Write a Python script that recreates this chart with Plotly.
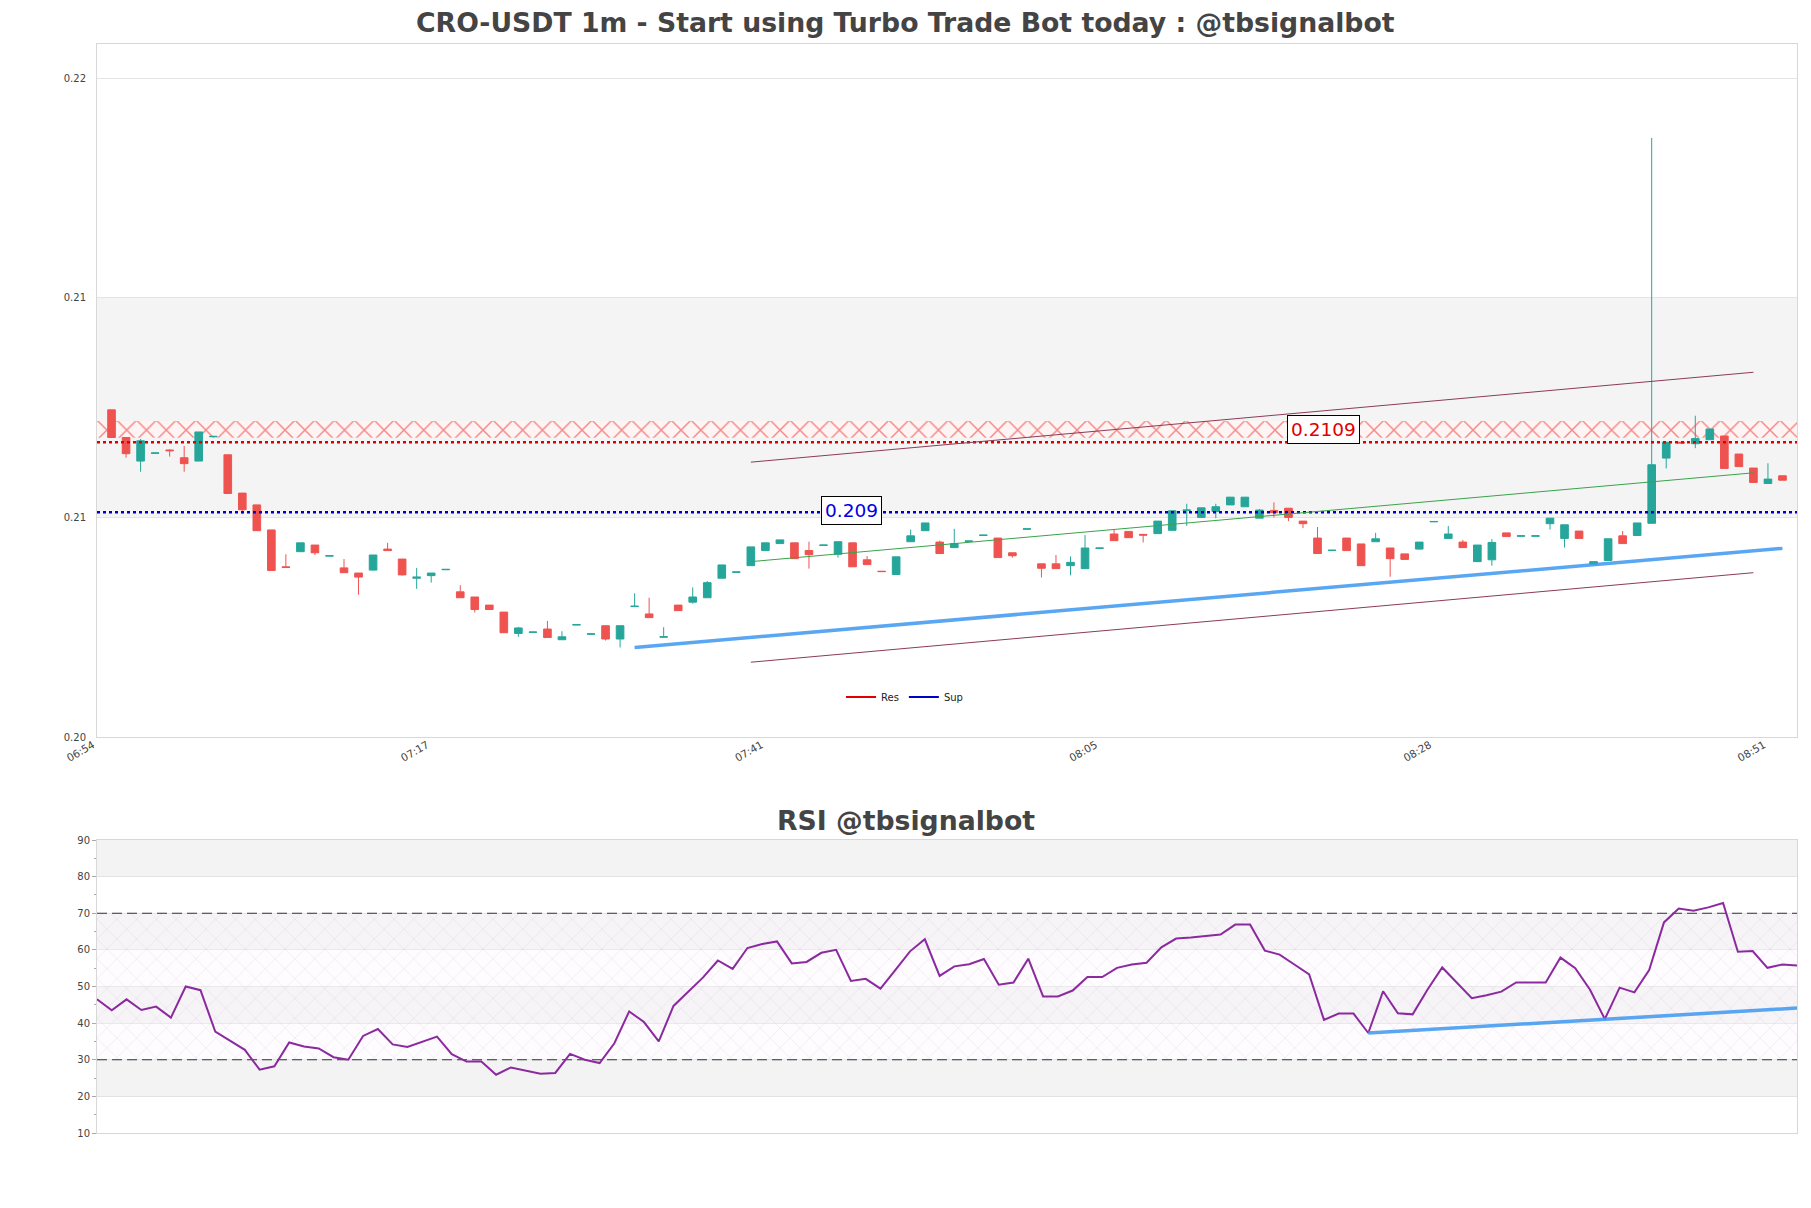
import plotly.graph_objects as go

# ---------------- data ----------------
tick_pos = [-1, 22, 45, 68, 91, 114]
tick_times = ["06:54", "07:17", "07:41", "08:05", "08:28", "08:51"]

opens = [
    0.21178, 0.21103, 0.21039, 0.21060, 0.21069, 0.21048, 0.21039, 0.21105, 0.21056, 0.20952,
    0.20920, 0.20852, 0.20752, 0.20793, 0.20811, 0.20781, 0.20749, 0.20735, 0.20743, 0.20800,
    0.20773, 0.20721, 0.20728, 0.20744, 0.20684, 0.20670, 0.20648, 0.20629, 0.20571, 0.20574,
    0.20583, 0.20554, 0.20594, 0.20569, 0.20592, 0.20556, 0.20644, 0.20624, 0.20561, 0.20648,
    0.20656, 0.20668, 0.20721, 0.20737, 0.20755, 0.20796, 0.20815, 0.20817, 0.20796, 0.20810,
    0.20786, 0.20817, 0.20771, 0.20740, 0.20731, 0.20820, 0.20850, 0.20819, 0.20804, 0.20821,
    0.20837, 0.20830, 0.20790, 0.20854, 0.20760, 0.20760, 0.20755, 0.20747, 0.20802, 0.20841,
    0.20848, 0.20840, 0.20842, 0.20851, 0.20905, 0.20886, 0.20902, 0.20920, 0.20915, 0.20884,
    0.20905, 0.20911, 0.20876, 0.20830, 0.20796, 0.20830, 0.20814, 0.20820, 0.20803, 0.20787,
    0.20800, 0.20874, 0.20829, 0.20819, 0.20766, 0.20771, 0.20844, 0.20835, 0.20835, 0.20869,
    0.20829, 0.20849, 0.20759, 0.20769, 0.20836, 0.20837, 0.20870, 0.21047, 0.21090, 0.21086,
    0.21097, 0.21107, 0.21058, 0.21020, 0.20978, 0.20999]

highs = [
    0.21178, 0.21103, 0.21099, 0.21061, 0.21071, 0.21080, 0.21118, 0.21106, 0.21056, 0.20952,
    0.20920, 0.20852, 0.20786, 0.20817, 0.20811, 0.20782, 0.20773, 0.20735, 0.20784, 0.20817,
    0.20773, 0.20749, 0.20735, 0.20745, 0.20702, 0.20670, 0.20648, 0.20629, 0.20589, 0.20575,
    0.20605, 0.20577, 0.20595, 0.20570, 0.20592, 0.20592, 0.20680, 0.20668, 0.20588, 0.20648,
    0.20696, 0.20713, 0.20757, 0.20738, 0.20806, 0.20817, 0.20825, 0.20817, 0.20820, 0.20811,
    0.20820, 0.20817, 0.20781, 0.20740, 0.20779, 0.20853, 0.20871, 0.20823, 0.20855, 0.20822,
    0.20838, 0.20830, 0.20790, 0.20855, 0.20760, 0.20784, 0.20780, 0.20838, 0.20803, 0.20853,
    0.20848, 0.20840, 0.20876, 0.20904, 0.20923, 0.20912, 0.20923, 0.20941, 0.20941, 0.20909,
    0.20927, 0.20911, 0.20876, 0.20860, 0.20797, 0.20830, 0.20814, 0.20844, 0.20803, 0.20787,
    0.20819, 0.20875, 0.20863, 0.20825, 0.20811, 0.20827, 0.20844, 0.20836, 0.20836, 0.20884,
    0.20866, 0.20849, 0.20766, 0.20828, 0.20849, 0.20871, 0.21916, 0.21090, 0.21090, 0.21162,
    0.21126, 0.21107, 0.21058, 0.21020, 0.21033, 0.20999]

lows = [
    0.21103, 0.21048, 0.21010, 0.21060, 0.21051, 0.21010, 0.21039, 0.21105, 0.20951, 0.20895,
    0.20850, 0.20742, 0.20750, 0.20793, 0.20784, 0.20781, 0.20736, 0.20676, 0.20742, 0.20796,
    0.20728, 0.20692, 0.20709, 0.20744, 0.20668, 0.20628, 0.20636, 0.20573, 0.20562, 0.20574,
    0.20560, 0.20554, 0.20594, 0.20569, 0.20552, 0.20533, 0.20644, 0.20614, 0.20561, 0.20633,
    0.20652, 0.20668, 0.20721, 0.20737, 0.20755, 0.20796, 0.20815, 0.20774, 0.20747, 0.20810,
    0.20777, 0.20752, 0.20758, 0.20739, 0.20731, 0.20820, 0.20850, 0.20788, 0.20804, 0.20821,
    0.20837, 0.20777, 0.20777, 0.20854, 0.20723, 0.20747, 0.20729, 0.20747, 0.20802, 0.20823,
    0.20831, 0.20818, 0.20842, 0.20851, 0.20863, 0.20886, 0.20884, 0.20920, 0.20915, 0.20884,
    0.20886, 0.20876, 0.20857, 0.20788, 0.20796, 0.20796, 0.20755, 0.20820, 0.20725, 0.20772,
    0.20799, 0.20874, 0.20829, 0.20804, 0.20766, 0.20755, 0.20834, 0.20835, 0.20835, 0.20853,
    0.20804, 0.20829, 0.20759, 0.20769, 0.20815, 0.20837, 0.20870, 0.21019, 0.21088, 0.21074,
    0.21097, 0.21019, 0.21024, 0.20981, 0.20978, 0.20987]

closes = [
    0.21103, 0.21059, 0.21094, 0.21061, 0.21067, 0.21032, 0.21118, 0.21106, 0.20951, 0.20907,
    0.20850, 0.20742, 0.20750, 0.20817, 0.20790, 0.20782, 0.20736, 0.20724, 0.20784, 0.20796,
    0.20730, 0.20724, 0.20735, 0.20745, 0.20668, 0.20636, 0.20636, 0.20573, 0.20586, 0.20575,
    0.20560, 0.20562, 0.20595, 0.20570, 0.20556, 0.20592, 0.20645, 0.20614, 0.20562, 0.20633,
    0.20670, 0.20709, 0.20757, 0.20738, 0.20806, 0.20817, 0.20825, 0.20774, 0.20785, 0.20811,
    0.20820, 0.20752, 0.20758, 0.20739, 0.20779, 0.20836, 0.20871, 0.20788, 0.20815, 0.20822,
    0.20838, 0.20777, 0.20782, 0.20855, 0.20748, 0.20747, 0.20764, 0.20803, 0.20803, 0.20823,
    0.20831, 0.20838, 0.20876, 0.20904, 0.20906, 0.20912, 0.20915, 0.20941, 0.20941, 0.20906,
    0.20899, 0.20886, 0.20869, 0.20788, 0.20797, 0.20796, 0.20755, 0.20828, 0.20774, 0.20772,
    0.20819, 0.20875, 0.20841, 0.20804, 0.20811, 0.20818, 0.20834, 0.20836, 0.20836, 0.20884,
    0.20866, 0.20829, 0.20766, 0.20828, 0.20815, 0.20871, 0.21029, 0.21090, 0.21088, 0.21100,
    0.21126, 0.21019, 0.21024, 0.20981, 0.20990, 0.20987]

rsi = [
    46.5, 43.5, 46.5, 43.6, 44.5, 41.5, 50.0, 49.0, 37.7, 35.3,
    32.7, 27.3, 28.2, 34.7, 33.6, 33.1, 30.7, 30.0, 36.5, 38.4,
    34.2, 33.5, 34.9, 36.3, 31.5, 29.5, 29.5, 25.9, 27.9, 27.1,
    26.2, 26.4, 31.6, 30.0, 29.1, 34.5, 43.2, 40.3, 35.0, 44.7,
    48.6, 52.5, 57.1, 54.8, 60.5, 61.6, 62.3, 56.3, 56.7, 59.2,
    60.0, 51.5, 52.1, 49.4, 54.5, 59.6, 62.9, 52.9, 55.5, 56.1,
    57.5, 50.5, 51.1, 57.6, 47.3, 47.3, 48.9, 52.6, 52.6, 55.1,
    56.0, 56.5, 60.7, 63.1, 63.4, 63.8, 64.2, 66.9, 66.9, 59.8,
    58.7, 56.0, 53.3, 40.9, 42.6, 42.6, 37.3, 48.7, 42.7, 42.4,
    49.1, 55.2, 51.1, 46.8, 47.6, 48.6, 51.1, 51.1, 51.1, 57.9,
    55.0, 49.1, 41.1, 49.7, 48.4, 54.5, 67.5, 71.3, 70.7, 71.6,
    72.8, 59.5, 59.7, 55.1, 56.0, 55.7]

res_level = 0.2109
sup_level = 0.2090
res_label = "0.2109"
sup_label = "0.209"
res_zone = [0.21102, 0.21148]

trend_x = [36, 115]
trend_y = [0.20533, 0.20802]
chan_x = [44, 113]
chan_upper = [0.21036, 0.21280]
chan_mid = [0.20766, 0.21007]
chan_lower = [0.20493, 0.20736]

rsi_trend_x = [86, 115]
rsi_trend_y = [37.3, 44.1]

price_ticks = [0.20290, 0.20886, 0.21482, 0.22077]
price_tick_text = ["0.20", "0.21", "0.21", "0.22"]
price_range = [0.20290, 0.22171]
rsi_levels = [30, 70]

title_main = "CRO-USDT 1m - Start using Turbo Trade Bot today : @tbsignalbot"
title_rsi = "RSI @tbsignalbot"

# ---------------- figure ----------------
n = len(opens)
assert len(highs) == n and len(lows) == n and len(closes) == n and len(rsi) == n
idx = list(range(n))
x_lo, x_hi = -1, n
r_lo, r_hi = 0, n - 1

fig = go.Figure()

# resistance zone (hatched) - bar layer sits below the candles
fig.add_trace(go.Bar(
    x=[(x_lo + x_hi) / 2], y=[res_zone[1] - res_zone[0]], base=[res_zone[0]],
    width=[x_hi - x_lo],
    marker=dict(color="rgba(255,244,244,1)", line=dict(width=0),
                pattern=dict(shape="x", fgcolor="#e3201b", bgcolor="rgba(255,244,244,1)",
                             size=14, solidity=0.2)),
    showlegend=False, hoverinfo="skip", xaxis="x", yaxis="y"))

# support / resistance dotted lines
fig.add_trace(go.Scatter(x=[x_lo, x_hi], y=[res_level, res_level], mode="lines",
                         line=dict(color="#e00000", width=2.5, dash="dot"),
                         showlegend=False, hoverinfo="skip", xaxis="x", yaxis="y"))
fig.add_trace(go.Scatter(x=[x_lo, x_hi], y=[sup_level, sup_level], mode="lines",
                         line=dict(color="#0000c8", width=2.5, dash="dot"),
                         showlegend=False, hoverinfo="skip", xaxis="x", yaxis="y"))

# channel lines
fig.add_trace(go.Scatter(x=chan_x, y=chan_upper, mode="lines",
                         line=dict(color="#8c3b55", width=1), showlegend=False,
                         hoverinfo="skip", xaxis="x", yaxis="y"))
fig.add_trace(go.Scatter(x=chan_x, y=chan_lower, mode="lines",
                         line=dict(color="#8c3b55", width=1), showlegend=False,
                         hoverinfo="skip", xaxis="x", yaxis="y"))
fig.add_trace(go.Scatter(x=chan_x, y=chan_mid, mode="lines",
                         line=dict(color="#3aa34a", width=1), showlegend=False,
                         hoverinfo="skip", xaxis="x", yaxis="y"))

# candles
fig.add_trace(go.Candlestick(
    x=idx, open=opens, high=highs, low=lows, close=closes,
    increasing=dict(line=dict(color="#26a69a", width=1), fillcolor="#26a69a"),
    decreasing=dict(line=dict(color="#ef5350", width=1), fillcolor="#ef5350"),
    whiskerwidth=0, showlegend=False, xaxis="x", yaxis="y"))

# support trend line
fig.add_trace(go.Scatter(x=trend_x, y=trend_y, mode="lines",
                         line=dict(color="rgba(60,150,240,0.85)", width=3.5),
                         showlegend=False, hoverinfo="skip", xaxis="x", yaxis="y"))

# legend entries
fig.add_trace(go.Scatter(x=[None], y=[None], mode="lines", name="Res",
                         line=dict(color="#e00000", width=2), xaxis="x", yaxis="y"))
fig.add_trace(go.Scatter(x=[None], y=[None], mode="lines", name="Sup",
                         line=dict(color="#0000c8", width=2), xaxis="x", yaxis="y"))

# RSI hatched zone
fig.add_trace(go.Scatter(
    x=[r_lo, r_hi, r_hi, r_lo, r_lo],
    y=[rsi_levels[0], rsi_levels[0], rsi_levels[1], rsi_levels[1], rsi_levels[0]],
    mode="none", fill="toself", fillcolor="rgba(0,0,0,0)",
    fillpattern=dict(shape="x", fgcolor="rgba(170,150,195,0.55)", bgcolor="rgba(250,246,252,0.35)",
                     size=14, solidity=0.07),
    showlegend=False, hoverinfo="skip", xaxis="x2", yaxis="y2"))

for lv in rsi_levels:
    fig.add_trace(go.Scatter(x=[r_lo, r_hi], y=[lv, lv], mode="lines",
                             line=dict(color="#333333", width=1.2, dash="10px,5px"),
                             showlegend=False, hoverinfo="skip", xaxis="x2", yaxis="y2"))

fig.add_trace(go.Scatter(x=idx, y=rsi, mode="lines",
                         line=dict(color="#8b2a9e", width=2),
                         showlegend=False, hoverinfo="skip", xaxis="x2", yaxis="y2"))

fig.add_trace(go.Scatter(x=rsi_trend_x, y=rsi_trend_y, mode="lines",
                         line=dict(color="rgba(60,150,240,0.85)", width=3.5),
                         showlegend=False, hoverinfo="skip", xaxis="x2", yaxis="y2"))

# alternating background bands
shapes = [dict(type="rect", xref="x domain", yref="y", x0=0, x1=1,
               y0=price_ticks[1], y1=price_ticks[2], fillcolor="#f4f4f4",
               line=dict(width=0), layer="below")]
for lo in [20, 40, 60, 80]:
    shapes.append(dict(type="rect", xref="x2 domain", yref="y2", x0=0, x1=1,
                       y0=lo, y1=lo + 10, fillcolor="#f3f3f3",
                       line=dict(width=0), layer="below"))

axis_line = dict(showline=True, mirror=True, linecolor="#d8d8d8", linewidth=1, zeroline=False)

fig.update_layout(
    width=1811, height=1208, autosize=False,
    margin=dict(l=97, r=14, t=44, b=75),
    paper_bgcolor="white", plot_bgcolor="white",
    font=dict(family="DejaVu Sans", size=10, color="#444444"),
    boxgap=0.25, barmode="overlay",
    showlegend=True,
    legend=dict(orientation="h", x=0.475, y=0.4004, xanchor="center", yanchor="middle",
                font=dict(size=10, color="#222222"), bgcolor="rgba(0,0,0,0)",
                itemwidth=30),
    xaxis=dict(domain=[0, 1], anchor="y", range=[x_lo, x_hi],
               tickmode="array", tickvals=tick_pos, ticktext=tick_times, tickangle=-30,
               showgrid=False, ticks="", rangeslider=dict(visible=False),
               ticklabelshift=-4, ticklabelstandoff=-3,
               tickfont=dict(size=10.5, color="#444444"), **axis_line),
    yaxis=dict(domain=[0.36364, 1], anchor="x", range=price_range,
               tickmode="array", tickvals=price_ticks, ticktext=price_tick_text,
               showgrid=True, gridcolor="#e4e4e4", ticks="", ticklabelstandoff=8,
               tickfont=dict(size=10, color="#444444"), **axis_line),
    xaxis2=dict(domain=[0, 1], anchor="y2", range=[r_lo, r_hi], showticklabels=False,
                showgrid=False, ticks="", **axis_line),
    yaxis2=dict(domain=[0, 0.26905], anchor="x2", range=[10, 90],
                tick0=10, dtick=10, showgrid=True, gridcolor="#e2e2e2",
                ticks="outside", ticklen=4, tickcolor="#aaaaaa",
                minor=dict(ticks="outside", ticklen=2, dtick=5, tickcolor="#aaaaaa", showgrid=False),
                tickfont=dict(size=10, color="#444444"), **axis_line),
    shapes=shapes,
    annotations=[
        dict(text="<b>" + title_main + "</b>", xref="paper", yref="paper",
             x=0.4756, y=1.0193, xanchor="center", yanchor="middle", showarrow=False,
             font=dict(family="DejaVu Sans", size=26.7, color="#444444")),
        dict(text="<b>" + title_rsi + "</b>", xref="paper", yref="paper",
             x=0.4756, y=0.2874, xanchor="center", yanchor="middle", showarrow=False,
             font=dict(family="DejaVu Sans", size=26.7, color="#444444")),
        dict(text=sup_label, xref="x", yref="y", x=50.9, y=sup_level + 0.00006,
             showarrow=False, font=dict(family="DejaVu Sans", size=18.5, color="#0000e0"),
             bgcolor="white", bordercolor="black", borderwidth=1, borderpad=3),
        dict(text=res_label, xref="x", yref="y", x=83.4, y=(res_zone[0] + res_zone[1]) / 2,
             showarrow=False, font=dict(family="DejaVu Sans", size=18.5, color="#e00000"),
             bgcolor="white", bordercolor="black", borderwidth=1, borderpad=3),
    ],
)

fig.write_html("out.html")
